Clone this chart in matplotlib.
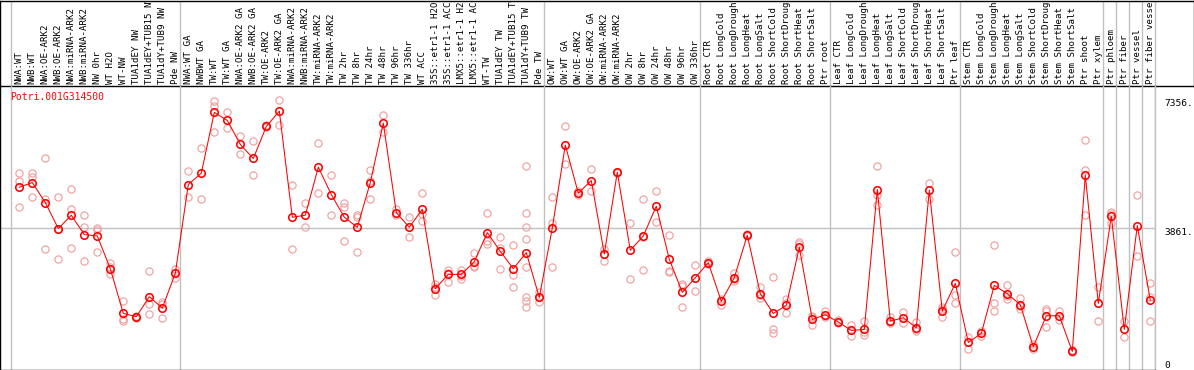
import matplotlib
matplotlib.use("Agg")
import matplotlib.pyplot as plt
import matplotlib.transforms as mtransforms

gene_id = "Potri.001G314500"

sample_labels = [
    # group 1
    "NWA:WT", "NWB:WT", "NWA:OE-ARK2", "NWB:OE-ARK2", "NWA:miRNA-ARK2", "NWB:miRNA-ARK2",
    "NW 0hr", "WT H2O", "WT-NW", "TUA1dEY NW", "TUA1dEY+TUB15 NW", "TUA1dY+TUB9 NW", "Pde NW",
    # group 2
    "NWA:WT GA", "NWBWT GA", "TW:WT", "TW:WT GA", "NWA:OE-ARK2 GA", "NWB:OE-ARK2 GA",
    "TW:OE-ARK2", "TW:OE-ARK2 GA", "NWA:miRNA-ARK2 GA", "NWB:miRNA-ARK2 GA", "TW:miRNA-ARK2",
    "TW:miRNA-ARK2", "TW 2hr", "TW 8hr", "TW 24hr", "TW 48hr", "TW 96hr", "TW 336hr", "WT ACC",
    "35S::etr1-1 H2O", "35S::etr1-1 ACC", "LMX5::etr1-1 H2O", "LMX5::etr1-1 ACC", "WT-TW",
    "TUA1dEY TW", "TUA1dEY+TUB15 TW", "TUA1dY+TUB9 TW", "Pde TW",
    # group 3
    "OW:WT", "OW:WT GA", "OW:OE-ARK2", "OW:OE-ARK2 GA", "OW:miRNA-ARK2", "OW:miRNA-ARK2",
    "OW 2hr", "OW 8hr", "OW 24hr", "OW 48hr", "OW 96hr", "OW 336hr",
    # root
    "Root CTR", "Root LongCold", "Root LongDrought", "Root LongHeat", "Root LongSalt",
    "Root ShortCold", "Root ShortDrought", "Root ShortHeat", "Root ShortSalt", "Ptr root",
    # leaf
    "Leaf CTR", "Leaf LongCold", "Leaf LongDrought", "Leaf LongHeat", "Leaf LongSalt",
    "Leaf ShortCold", "Leaf ShortDrought", "Leaf ShortHeat", "Leaf ShortSalt", "Ptr leaf",
    # stem
    "Stem CTR", "Stem LongCold", "Stem LongDrought", "Stem LongHeat", "Stem LongSalt",
    "Stem ShortCold", "Stem ShortDrought", "Stem ShortHeat", "Stem ShortSalt", "Ptr shoot",
    "Ptr xylem",
    "Ptr phloem", "Ptr fiber", "Ptr vessel", "Ptr fiber vessel",
]

group_sizes = [13, 28, 12, 10, 10, 11, 1, 1, 1, 1]

mean_values = [
    4967, 5094, 4548, 3839, 4203, 3675, 3639, 2747, 1528, 1437, 1983, 1674, 2620,
    5040, 5349, 7004, 6786, 6131, 5749, 6622, 7041, 4148, 4203, 5513, 4767, 4148,
    3875, 5094, 6713, 4275, 3875, 4366, 2201, 2592, 2592, 2938, 3730, 3220, 2747,
    3184, 1965,
    3857, 6113, 4803, 5149, 3147, 5376, 3247, 3639, 4448, 3002, 2101, 2502,
    2911, 1856, 2502, 3657, 2065, 1528, 1746, 3329, 1364, 1492,
    1292, 1064, 1091, 4903, 1319, 1410, 1137, 4885, 1592, 2347,
    737, 982, 2292, 2065, 1765, 618, 1464, 1464, 491, 5294, 1801,
    4175, 1091, 3921, 1883,
]

replicate_values = [
    [5367, 5131, 4439], [5349, 5231, 4712], [5749, 4639, 3275], [4712, 3839, 3002],
    [4912, 4366, 3302], [4221, 3893, 2965], [3857, 3811, 3211], [2893, 2793, 2601],
    [1874, 1364, 1310], [1464, 1428, 1392], [2674, 1783, 1510], [1838, 1783, 1401],
    [2747, 2620, 2492],
    [5403, 4712], [6022, 4639], [7320, 7186, 6459], [7004, 6568], [6349, 5876],
    [6222, 5294], [6659, 6604], [7356, 6659], [5040, 3275], [4530, 3875], [6168, 4821],
    [5312, 4221], [4530, 4421, 3493], [4221, 4166, 3202], [5422, 5149, 4657],
    [6932, 6477], [4366, 4203], [4148, 3602], [4803, 4239, 4057], [2329, 2256, 2019],
    [2711, 2638, 2383], [2711, 2547, 2456], [3184, 2820, 2784], [4275, 3493, 3420],
    [3620, 3311, 2729], [3384, 2565, 2256],
    [5531, 4275, 3893, 3566, 2784, 1965, 1856, 1710],
    [2110, 1965, 1838],
    [4694, 4003, 2802], [6622, 5604], [4858, 4748], [5458, 4858], [3293, 2965],
    [5394, 5358], [4003, 2474], [4657, 3602, 2711], [4876, 4021], [3657, 2693, 2656],
    [2329, 2274, 1692], [2838, 2147],
    [2965, 2911, 2874], [1910, 1765], [2620, 2456, 2420], [3693, 3639],
    [2238, 2019, 1947], [2529, 1110, 982], [1910, 1819, 1528], [3475, 3420, 3111],
    [1455, 1419, 1219], [1583, 1455, 1437],
    [1346, 1255], [1201, 1073, 910], [1310, 1019, 946], [5531, 4748, 4494],
    [1419, 1292, 1255], [1565, 1255], [1292, 1091, 1037], [5094, 4657],
    [1692, 1656, 1419], [3202, 2038, 1801],
    [873, 564], [1055, 910], [3402, 1801, 1601], [2292, 2001, 1928], [1947, 1728, 1637],
    [691, 564], [1637, 1601, 1146], [1583, 1346], [527, 473], [6240, 5422, 4221],
    [2238, 1328],
    [4294, 4239, 4003], [1310, 873], [4767, 3093], [2365, 1983, 1310],
]

max_value = 7356.0
mid_value = max_value * 1.05 / 2

W, H = 1194, 370
line_red = "#ff0000"
rep_pink = "#f0a0a0"
grid_gray = "#c0c0c0"
mono = "DejaVu Sans Mono"

# pixel layout: sample i sits at 19.3 + 13*i px
step = 13.0
x0 = 19.3
sep_offset = 0.385


def px_to_index(px):
    return (px - x0) / step


fig = plt.figure(figsize=(W / 100, H / 100), dpi=100)

label_ax = fig.add_axes([0, 284 / H, 1193.5 / W, (86 - 0.5) / H])
plot_ax = fig.add_axes([0, 0.5 / H, 1155.3 / W, 283.5 / H])

label_ax.set_xlim(px_to_index(0), px_to_index(1193.5))
label_ax.set_ylim(0, 1)
plot_ax.set_xlim(px_to_index(0), px_to_index(1155.3))
plot_ax.set_ylim(0, max_value * 1.05)

for ax in (label_ax, plot_ax):
    ax.set_xticks([])
    ax.set_yticks([])
    ax.patch.set_alpha(0)
    for sp in ax.spines.values():
        sp.set_color("black")
        sp.set_linewidth(1.0)
plot_ax.spines["top"].set_visible(False)
plot_ax.spines["right"].set_color(grid_gray)

# group separators
bounds = [-1]
for n in group_sizes:
    bounds.append(bounds[-1] + n)
for b in bounds:
    for ax in (label_ax, plot_ax):
        ax.axvline(b + sep_offset, color=grid_gray, lw=1.0, zorder=0)
plot_ax.axhline(mid_value, color=grid_gray, lw=1.0, zorder=0)

# sample labels (long names are cut at the top edge, as in the source chart)
for i, lab in enumerate(sample_labels):
    label_ax.text(i, 2 / 86, lab, rotation=90, ha="center", va="bottom",
                  fontsize=6.6, family=mono, color="black", clip_on=True)

# replicates
for i, reps in enumerate(replicate_values):
    plot_ax.plot([i] * len(reps), reps, linestyle="none", marker="o", ms=5.2,
                 mfc="none", mec=rep_pink, mew=0.85, zorder=2)

xs = list(range(len(mean_values)))
plot_ax.plot(xs, mean_values, color=line_red, lw=0.75, zorder=3)
plot_ax.plot(xs, mean_values, linestyle="none", marker="o", ms=5.4,
             mfc="none", mec=line_red, mew=1.15, zorder=4)

plot_ax.text(10 / 1155.3, 1 - 11 / 283.5, gene_id, transform=plot_ax.transAxes,
             ha="left", va="center", fontsize=7, family=mono, color=line_red)

# value labels on the right margin
trans = mtransforms.blended_transform_factory(fig.transFigure, plot_ax.transData)
plot_ax.text(1164 / W, max_value, "7356.", transform=trans, ha="left", va="top",
             fontsize=6.8, family=mono, clip_on=False)
plot_ax.text(1164 / W, mid_value, "3861.", transform=trans, ha="left", va="top",
             fontsize=6.8, family=mono, clip_on=False)
plot_ax.text(1164 / W, 0, "0", transform=trans, ha="left", va="bottom",
             fontsize=6.8, family=mono, clip_on=False)

fig.savefig("out.png", dpi=100)
